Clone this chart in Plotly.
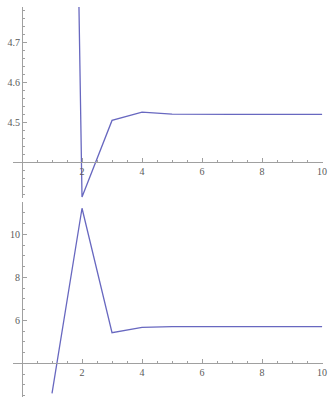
import plotly.graph_objects as go

x_vals = [1, 2, 3, 4, 5, 6, 7, 8, 9, 10]
top_vals = [9.0, 4.3125, 4.505, 4.526, 4.521, 4.520, 4.520, 4.520, 4.520, 4.520]
bottom_vals = [2.6, 11.21, 5.42, 5.67, 5.70, 5.70, 5.70, 5.70, 5.70, 5.70]

x_ticks = [2, 4, 6, 8, 10]
top_yticks = [4.5, 4.6, 4.7]
bottom_yticks = [6, 8, 10]

W, H = 329, 397
line_color = "rgb(104,104,192)"
axis_color = "#a0a0a0"
font = dict(family="Liberation Serif", size=10, color="#5a5a5a")

fig = go.Figure()
fig.add_trace(go.Scatter(x=x_vals, y=top_vals, mode="lines",
                         line=dict(color=line_color, width=1.3),
                         xaxis="x", yaxis="y", hoverinfo="skip"))
fig.add_trace(go.Scatter(x=x_vals, y=bottom_vals, mode="lines",
                         line=dict(color=line_color, width=1.3),
                         xaxis="x2", yaxis="y2", hoverinfo="skip"))

xdom = [13 / W, 323 / W]
xrange = [-0.3, 10.03]
top_dom = [1 - 198 / H, 1 - 7 / H]
bot_dom = [0, 1 - 202 / H]
yaxis_pos = 22 / W

common_x = dict(range=xrange, domain=xdom, showgrid=False, zeroline=False,
                showline=True, linecolor=axis_color, linewidth=1,
                tickmode="array", tickvals=x_ticks, ticks="inside",
                ticklen=4, tickcolor=axis_color, tickfont=font,
                minor=dict(tickmode="linear", tick0=0, dtick=0.5, ticks="inside",
                           ticklen=2, tickcolor=axis_color),
                anchor="free", automargin=False, fixedrange=True)
common_y = dict(showgrid=False, zeroline=False, showline=True,
                linecolor=axis_color, linewidth=1, ticks="inside",
                ticklen=4, tickcolor=axis_color, tickfont=font,
                anchor="free", position=yaxis_pos, automargin=False, fixedrange=True)

fig.update_layout(
    width=W, height=H,
    font=font,
    margin=dict(l=0, r=0, t=0, b=0, autoexpand=False),
    paper_bgcolor="white", plot_bgcolor="white",
    showlegend=False,
    xaxis=dict(common_x, position=1 - 162 / H),
    xaxis2=dict(common_x, position=1 - 363.3 / H),
    yaxis=dict(common_y, domain=top_dom, range=[4.31, 4.79],
               tickmode="array", tickvals=top_yticks,
               minor=dict(tickmode="linear", tick0=4.4, dtick=0.02, ticks="inside",
                          ticklen=2, tickcolor=axis_color)),
    yaxis2=dict(common_y, domain=bot_dom, range=[2.43, 11.5],
                tickmode="array", tickvals=bottom_yticks,
                minor=dict(tickmode="linear", tick0=4, dtick=0.5, ticks="inside",
                           ticklen=2, tickcolor=axis_color)),
)

fig.write_html("out.html", config={"displayModeBar": False, "staticPlot": True},
               post_script="document.body.style.margin='0';document.body.style.overflow='hidden';")
